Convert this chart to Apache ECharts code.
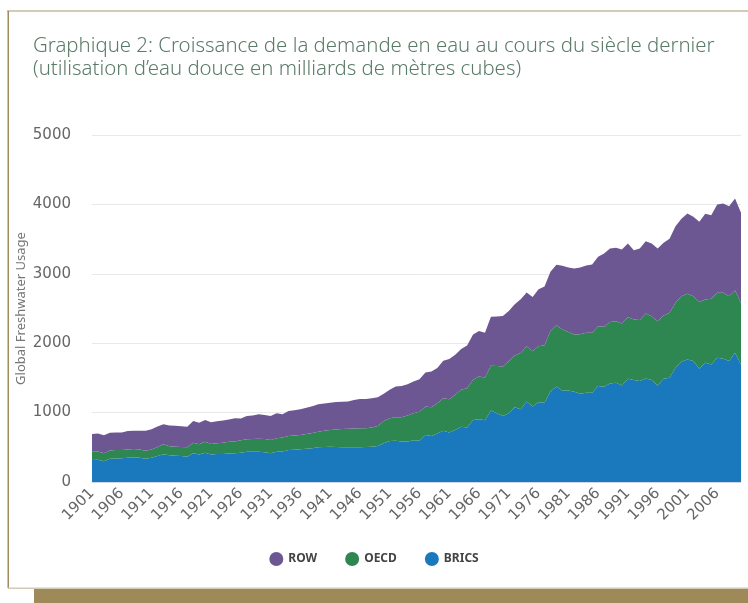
<!DOCTYPE html>
<html>
<head>
<meta charset="utf-8">
<script src="https://cdn.jsdelivr.net/npm/echarts@6/dist/echarts.min.js"></script>
<style>
  html, body { margin: 0; padding: 0; background: #fff; }
  #chart { width: 748px; height: 603px; }
</style>
</head>
<body>
<div id="chart"></div>
<script>
// years 1901 .. 2010
var years = [];
for (var y = 1901; y <= 2010; y++) years.push(String(y));

var brics = [
  317, 320, 300, 335, 340, 341, 350, 355, 350, 335,
  350, 375, 399, 385, 380, 375, 365, 415, 395, 423,
  395, 405, 405, 410, 415, 423, 437, 437, 437, 430,
  413, 437, 440, 461, 465, 471, 480, 487, 500, 505,
  509, 505, 500, 500, 500, 500, 505, 509, 519, 560,
  590, 596, 583, 585, 603, 594, 676, 662, 700, 739,
  715, 749, 797, 787, 894, 903, 890, 1029, 990, 952,
  990, 1077, 1048, 1159, 1087, 1150, 1145, 1304, 1377, 1314,
  1319, 1300, 1270, 1286, 1286, 1382, 1373, 1421, 1430, 1392,
  1488, 1469, 1454, 1493, 1469, 1392, 1488, 1502, 1646, 1733,
  1766, 1742, 1632, 1718, 1694, 1790, 1776, 1742, 1862, 1694
];
var oecd = [
  120, 120, 113, 120, 120, 120, 120, 121, 118, 117,
  120, 130, 144, 130, 129, 130, 135, 150, 150, 158,
  153, 155, 160, 170, 170, 177, 178, 183, 188, 190,
  192, 192, 200, 202, 205, 206, 210, 218, 225, 233,
  240, 252, 262, 266, 270, 273, 268, 276, 288, 320,
  330, 336, 349, 375, 387, 420, 411, 415, 435, 469,
  478, 507, 531, 565, 579, 618, 617, 647, 680, 714,
  749, 744, 812, 797, 797, 806, 826, 870, 883, 884,
  841, 825, 860, 864, 864, 864, 864, 883, 888, 893,
  888, 873, 879, 936, 921, 926, 912, 936, 936, 945,
  946, 936, 960, 912, 946, 936, 950, 936, 898, 888
];
var row = [
  255, 260, 262, 255, 252, 254, 265, 264, 270, 287,
  290, 295, 288, 300, 301, 300, 295, 315, 310, 312,
  312, 315, 320, 320, 335, 315, 335, 340, 353, 345,
  346, 360, 335, 360, 365, 370, 380, 385, 394, 392,
  394, 395, 396, 394, 410, 423, 423, 420, 413, 390,
  410, 443, 451, 450, 459, 466, 492, 517, 507, 540,
  580, 579, 590, 614, 652, 653, 642, 705, 715, 725,
  724, 739, 772, 773, 782, 821, 845, 854, 870, 917,
  931, 952, 960, 970, 984, 999, 1056, 1061, 1056, 1065,
  1061, 999, 1032, 1041, 1047, 1047, 1046, 1066, 1104, 1114,
  1157, 1143, 1157, 1234, 1205, 1272, 1287, 1296, 1325, 1296
];

var cRow = '#6c5793';
var cOecd = '#2e8750';
var cBrics = '#1a78bc';

function areaSeries(name, data, color) {
  return {
    name: name,
    type: 'line',
    stack: 'total',
    data: data,
    showSymbol: false,
    symbol: 'circle',
    color: color,
    lineStyle: { width: 0 },
    areaStyle: { color: color, opacity: 1 },
    emphasis: { disabled: true }
  };
}

var chart = echarts.init(document.getElementById('chart'), null, { renderer: 'canvas' });
chart.setOption({
  animation: false,
  backgroundColor: '#fff',
  title: {
    text: 'Graphique 2: Croissance de la demande en eau au cours du siècle dernier\n(utilisation d\u2019eau douce en milliards de mètres cubes)',
    left: 28,
    top: 30,
    textStyle: {
      color: '#5b7b69',
      fontFamily: 'Noto Sans',
      fontWeight: 300,
      fontSize: 20.4,
      lineHeight: 23
    }
  },
  legend: {
    data: ['ROW', 'OECD', 'BRICS'],
    left: 'center',
    top: 547,
    icon: 'circle',
    itemWidth: 14,
    itemHeight: 14,
    itemGap: 28,
    textStyle: { color: '#444', fontFamily: 'Noto Sans', fontWeight: 'bold', fontSize: 12 }
  },
  grid: { left: 92, right: 7, top: 135, bottom: 121, containLabel: false },
  xAxis: {
    type: 'category',
    data: years,
    boundaryGap: false,
    axisLine: { show: true, lineStyle: { color: '#cfd8e6', width: 1 } },
    axisTick: { show: false },
    axisLabel: {
      interval: 4,
      rotate: 45,
      color: '#666',
      fontFamily: 'DejaVu Sans',
      fontSize: 15,
      margin: 9
    }
  },
  yAxis: {
    type: 'value',
    min: 0,
    max: 5000,
    interval: 1000,
    name: 'Global Freshwater Usage',
    nameLocation: 'middle',
    nameGap: 64,
    nameMoveOverlap: false,
    nameTextStyle: { color: '#777', fontFamily: 'Noto Sans', fontSize: 13 },
    axisLine: { show: false },
    axisTick: { show: false },
    axisLabel: {
      color: '#666',
      fontFamily: 'DejaVu Sans',
      fontSize: 15,
      margin: 21,
      formatter: function (v) { return String(v); }
    },
    splitLine: { lineStyle: { color: '#e8e8e8', width: 1 } }
  },
  series: [
    areaSeries('BRICS', brics, cBrics),
    areaSeries('OECD', oecd, cOecd),
    areaSeries('ROW', row, cRow)
  ],
  graphic: [
    { type: 'rect', shape: { x: 7, y: 10.5, width: 741, height: 1 }, style: { fill: '#a8996c' }, silent: true },
    { type: 'rect', shape: { x: 7.5, y: 11, width: 1.5, height: 577 }, style: { fill: '#a08c5a' }, silent: true },
    { type: 'rect', shape: { x: 8, y: 587.5, width: 740, height: 1.5 }, style: { fill: '#d2cab6' }, silent: true },
    { type: 'rect', shape: { x: 34, y: 589, width: 714, height: 14 }, style: { fill: '#9e8a58' }, silent: true }
  ]
});
</script>
</body>
</html>
